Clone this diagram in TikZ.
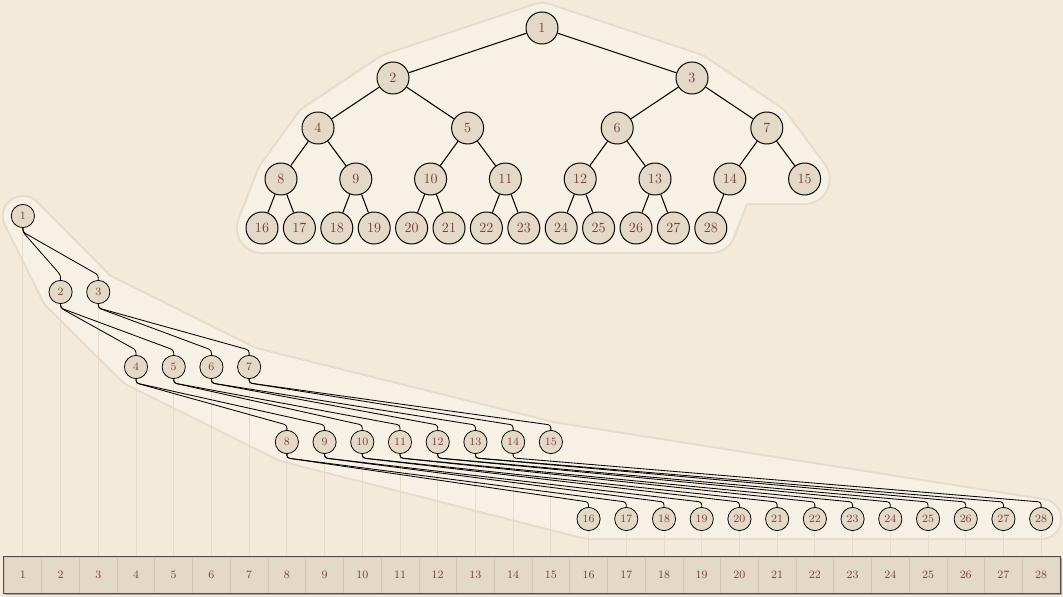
\documentclass[tikz,border=0pt]{standalone}
\usepackage{tikz}
\usetikzlibrary{calc}
\pgfdeclarelayer{back}
\pgfdeclarelayer{links}
\pgfsetlayers{back,links,main}

\definecolor{paper}{HTML}{F3EAD9}
\definecolor{hull}{HTML}{F7F0E4}
\definecolor{hullline}{HTML}{E7DCCB}
\definecolor{nodefill}{HTML}{E4D8C6}
\definecolor{nodetext}{HTML}{7B3F3F}
\definecolor{cellline}{HTML}{D3C5B2}

\tikzset{
	unode/.style={circle, draw=black, line width=0.7pt, fill=nodefill, text=nodetext, minimum size=0.8cm, inner sep=0pt, font=\normalsize},
	lnode/.style={circle, draw=black, line width=0.55pt, fill=nodefill, text=nodetext, minimum size=0.58cm, inner sep=0pt, font=\footnotesize},
	cell/.style={rectangle, draw=cellline, line width=0.5pt, fill=nodefill, text=nodetext, minimum width=0.943cm, minimum height=0.9cm, inner sep=0pt, font=\footnotesize},
	uedge/.style={line width=0.75pt},
	ledge/.style={line width=0.6pt, rounded corners=2pt},
	vline/.style={draw=hullline, line width=0.6pt}
}

\begin{document}
\begin{tikzpicture}[x=0.025cm, y=-0.025cm]
			%%%%% START %%%%%
			\useasboundingbox (0,0) rectangle (1063,597);
			
			% upper tree
			\node[unode] (u1) at (542,28) {1};
			\foreach \i in {2,3} \node[unode] (u\i) at ({393+299*(\i-2)},78) {\i};
			\foreach \i in {4,...,7} \node[unode] (u\i) at ({318+149.6*(\i-4)},128) {\i};
			\foreach \i in {8,...,15} \node[unode] (u\i) at ({281+74.8*(\i-8)},179) {\i};
			\foreach \i in {16,...,28} \node[unode] (u\i) at ({262+37.4*(\i-16)},228) {\i};
			
			% array
			\foreach \i in {1,...,28} \node[cell] (c\i) at ({-14.857+37.714*\i},575) {\i};
			\draw[line width=0.8pt, draw=black!70] (c1.north west) rectangle (c28.south east);
			
			% lower tree, one row per level
			\node[lnode] (l1) at (22.857,216) {1};
			\foreach \i in {2,3} \node[lnode] (l\i) at ({-14.857+37.714*\i},292) {\i};
			\foreach \i in {4,...,7} \node[lnode] (l\i) at ({-14.857+37.714*\i},367) {\i};
			\foreach \i in {8,...,15} \node[lnode] (l\i) at ({-14.857+37.714*\i},442) {\i};
			\foreach \i in {16,...,28} \node[lnode] (l\i) at ({-14.857+37.714*\i},519) {\i};
			
			\begin{pgfonlayer}{links}
				\foreach \i in {1,...,28} \draw[vline] (l\i.center) -- (c\i.north);
				\fill[black!35] ($(c1.north west)+(1.5,1.5)$) rectangle ($(c28.south east)+(1.5,1.5)$);
				\foreach \i [evaluate=\i as \p using int(\i/2)] in {2,...,28} {
					\draw[uedge] (u\p) -- (u\i);
					\draw[ledge] (l\p.south) -- ++(0,4) -- ($(l\i.north)+(0,-5)$) -- (l\i.north);
				}
			\end{pgfonlayer}
			
			\begin{pgfonlayer}{back}
				\fill[paper] (0,0) rectangle (1063,597);
				% hulls
				\draw[line width=1.3cm, draw=hullline, fill=hullline, line join=round] (u1.center) -- (u3.center) -- (u7.center) -- (u15.center) -- (u14.center) -- (u28.center) -- (u16.center) -- (u8.center) -- (u4.center) -- (u2.center) -- cycle;
				\draw[line width=1.2cm, draw=hull, fill=hull, line join=round] (u1.center) -- (u3.center) -- (u7.center) -- (u15.center) -- (u14.center) -- (u28.center) -- (u16.center) -- (u8.center) -- (u4.center) -- (u2.center) -- cycle;
				\draw[line width=1.05cm, draw=hullline, fill=hullline, line join=round] (l1.center) -- (l3.center) -- (l7.center) -- (l15.center) -- (l28.center) -- (l16.center) -- (l8.center) -- (l4.center) -- (l2.center) -- cycle;
				\draw[line width=0.95cm, draw=hull, fill=hull, line join=round] (l1.center) -- (l3.center) -- (l7.center) -- (l15.center) -- (l28.center) -- (l16.center) -- (l8.center) -- (l4.center) -- (l2.center) -- cycle;
			\end{pgfonlayer}
			
			%%%%% END %%%%%
\end{tikzpicture}
\end{document}
